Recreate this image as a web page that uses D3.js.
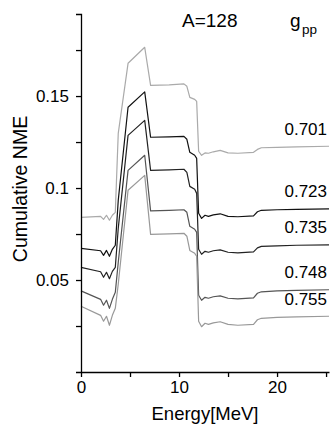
<!DOCTYPE html>
<html><head><meta charset="utf-8">
<script src="https://cdn.jsdelivr.net/npm/d3@7"></script>
<style>
body{margin:0;background:#fff;}
text{font-family:"Liberation Sans",Arial,Helvetica,sans-serif;fill:#000;}
</style></head>
<body><svg id="c" width="330" height="433"></svg>
<script>
// Energy grid (MeV)
const energy = [0, 2.0, 2.3, 2.6, 2.9, 3.2, 3.5, 3.8, 4.8, 6.5, 7.1, 9.0, 10.5, 10.8, 11.1, 11.6, 11.8, 12.0, 12.3, 12.65, 13.0, 13.5, 14.2, 15.0, 16.0, 17.6, 18.0, 18.4, 20.0, 22.0, 25.3];
// Cumulative NME for each g_pp
const nme701 = [0.0841, 0.0846, 0.0830, 0.0852, 0.0825, 0.0852, 0.0868, 0.1297, 0.1678, 0.1765, 0.1558, 0.1561, 0.1566, 0.1553, 0.1493, 0.1482, 0.1471, 0.1200, 0.1178, 0.1191, 0.1189, 0.1197, 0.1205, 0.1191, 0.1189, 0.1194, 0.1210, 0.1219, 0.1221, 0.1224, 0.1227];
const nme723 = [0.0672, 0.0659, 0.0634, 0.0661, 0.0629, 0.0667, 0.0689, 0.0933, 0.1439, 0.1523, 0.1276, 0.1278, 0.1281, 0.1265, 0.1194, 0.1178, 0.1161, 0.0863, 0.0835, 0.0852, 0.0846, 0.0854, 0.0860, 0.0846, 0.0844, 0.0849, 0.0871, 0.0879, 0.0882, 0.0884, 0.0887];
const nme735 = [0.0569, 0.0545, 0.0515, 0.0542, 0.0507, 0.0547, 0.0569, 0.0781, 0.1286, 0.1368, 0.1096, 0.1099, 0.1102, 0.1085, 0.1009, 0.0993, 0.0971, 0.0667, 0.0640, 0.0656, 0.0651, 0.0659, 0.0664, 0.0651, 0.0648, 0.0653, 0.0675, 0.0683, 0.0686, 0.0689, 0.0691];
const nme748 = [0.0441, 0.0395, 0.0363, 0.0390, 0.0346, 0.0395, 0.0433, 0.0596, 0.1096, 0.1178, 0.0876, 0.0879, 0.0882, 0.0868, 0.0792, 0.0776, 0.0759, 0.0417, 0.0390, 0.0406, 0.0401, 0.0409, 0.0414, 0.0401, 0.0398, 0.0403, 0.0428, 0.0436, 0.0441, 0.0444, 0.0447];
const nme755 = [0.0357, 0.0308, 0.0276, 0.0303, 0.0254, 0.0308, 0.0346, 0.0477, 0.0988, 0.1069, 0.0748, 0.0751, 0.0754, 0.0738, 0.0661, 0.0645, 0.0629, 0.0276, 0.0246, 0.0265, 0.0259, 0.0267, 0.0273, 0.0259, 0.0254, 0.0259, 0.0284, 0.0292, 0.0297, 0.0300, 0.0303];
const gppLabels = ["0.701", "0.723", "0.735", "0.748", "0.755"];
const xTicks = [0, 5, 10, 15, 20, 25];
const xTickLabels = ["0", "", "10", "", "20", ""];
const yTicks = [0.025, 0.05, 0.075, 0.1, 0.125, 0.15, 0.175];
const yTickLabels = ["", "0.05", "", "0.1", "", "0.15", ""];

const seriesValues = [nme701, nme723, nme735, nme748, nme755];
const colors = ["#aaaaaa", "#111111", "#222222", "#555555", "#999999"];

const svg = d3.select("#c");
const m = {left: 81, top: 14, right: 329, bottom: 372};
const x = d3.scaleLinear().domain([0, 25.3]).range([m.left, m.right]);
const y = d3.scaleLinear().domain([0, 0.1946]).range([m.bottom, m.top]);

// lines
const line = d3.line().x((d, i) => x(energy[i])).y(d => y(d));
seriesValues.forEach((vals, k) => {
  svg.append("path").datum(vals)
    .attr("d", line)
    .attr("fill", "none")
    .attr("stroke", colors[k])
    .attr("stroke-width", 1.2)
    .attr("stroke-linejoin", "round");
});

// axes
const xAxis = d3.axisBottom(x).tickValues(xTicks)
  .tickFormat((d, i) => xTickLabels[i]).tickSize(5).tickSizeOuter(0).tickPadding(4);
const gx = svg.append("g").attr("transform", `translate(0,${m.bottom})`).call(xAxis);
const yAxis = d3.axisLeft(y).tickValues(yTicks)
  .tickFormat((d, i) => yTickLabels[i]).tickSize(5).tickSizeOuter(5).tickPadding(7);
const gy = svg.append("g").attr("transform", `translate(${m.left},0)`).call(yAxis);
[gx, gy].forEach(g => {
  g.selectAll("path,line").attr("stroke", "#000").attr("stroke-width", 1.3);
  g.selectAll("text").style("font-family", '"Liberation Sans",Arial,sans-serif').attr("font-size", 17).attr("fill", "#000");
});

// axis titles
svg.append("text").attr("x", (m.left + m.right) / 2).attr("y", 420)
  .attr("text-anchor", "middle").attr("font-size", 18.5).text("Energy[MeV]");
svg.append("text").attr("transform", `translate(27,${(m.top + m.bottom) / 2 - 4}) rotate(-90)`)
  .attr("text-anchor", "middle").attr("font-size", 19.5).text("Cumulative NME");

// annotations
svg.append("text").attr("x", 182).attr("y", 27).attr("font-size", 19).text("A=128");
const gt = svg.append("text").attr("x", 290).attr("y", 27).attr("font-size", 19);
gt.append("tspan").text("g");
gt.append("tspan").attr("font-size", 13.5).attr("dx", 1.5).attr("dy", 7).text("pp");

// right-side g_pp labels
seriesValues.forEach((vals, k) => {
  svg.append("text").attr("x", 327).attr("y", y(vals[vals.length - 1]) - 17)
    .attr("text-anchor", "end").attr("dominant-baseline", "central")
    .attr("font-size", 17).text(gppLabels[k]);
});
</script></body></html>
